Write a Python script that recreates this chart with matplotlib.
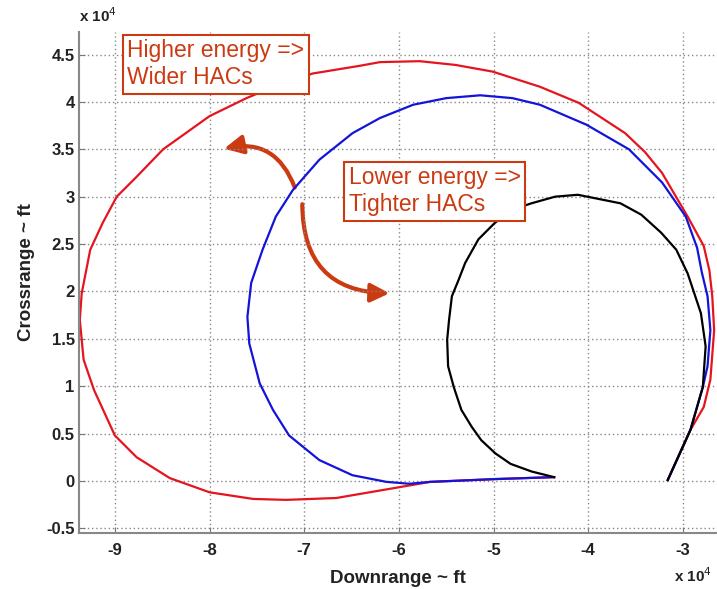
import numpy as np
import matplotlib.pyplot as plt
from matplotlib.patches import FancyArrowPatch

plt.rcParams['font.family'] = ['Liberation Sans', 'DejaVu Sans']

# Траектории HAC (в единицах 1e4 ft), точки
red_x = [-3.16, -2.92, -2.78, -2.71, -2.67, -2.69, -2.72, -2.78, -2.95, -3.22,
         -3.40, -3.61, -4.10, -4.51, -5.01, -5.40, -5.78, -6.20, -6.42, -6.91,
         -7.25, -7.61, -8.00, -8.49, -8.77, -8.98, -9.13, -9.26, -9.35, -9.37,
         -9.33, -9.22, -9.00, -8.77, -8.42, -8.00, -7.54, -7.19, -6.66, -6.31,
         -5.96, -5.67, -4.97, -4.36]
red_y = [0.01, 0.54, 0.78, 1.07, 1.59, 1.95, 2.22, 2.48, 2.79, 3.25,
         3.47, 3.67, 3.99, 4.16, 4.32, 4.39, 4.43, 4.42, 4.38, 4.30,
         4.19, 4.04, 3.85, 3.50, 3.21, 3.00, 2.72, 2.44, 1.98, 1.70,
         1.28, 0.96, 0.48, 0.25, 0.03, -0.12, -0.19, -0.20, -0.18, -0.12,
         -0.06, -0.01, 0.02, 0.04]

blue_x = [-3.16, -2.92, -2.79, -2.74, -2.71, -2.74, -2.80, -2.85, -2.97, -3.22,
          -3.57, -4.02, -4.51, -4.80, -5.14, -5.50, -5.85, -6.20, -6.49, -6.84,
          -7.12, -7.30, -7.44, -7.56, -7.60, -7.58, -7.47, -7.33, -7.16, -6.84,
          -6.49, -6.13, -5.89, -5.67, -4.97, -4.36]
blue_y = [0.01, 0.54, 0.99, 1.21, 1.59, 1.95, 2.20, 2.46, 2.79, 3.15,
          3.50, 3.76, 3.97, 4.04, 4.07, 4.04, 3.97, 3.83, 3.67, 3.39,
          3.07, 2.79, 2.44, 2.09, 1.73, 1.45, 1.03, 0.75, 0.48, 0.22,
          0.06, -0.01, -0.03, -0.01, 0.02, 0.04]

black_x = [-3.16, -2.92, -2.79, -2.76, -2.81, -2.88, -2.95, -3.07, -3.23, -3.44,
           -3.66, -4.11, -4.35, -4.60, -4.81, -4.99, -5.16, -5.30, -5.37, -5.44,
           -5.47, -5.49, -5.48, -5.42, -5.34, -5.23, -5.13, -4.98, -4.82, -4.60,
           -4.36]
black_y = [0.01, 0.54, 0.99, 1.42, 1.77, 1.98, 2.19, 2.44, 2.62, 2.81,
           2.93, 3.02, 3.00, 2.93, 2.86, 2.72, 2.55, 2.30, 2.12, 1.95,
           1.70, 1.49, 1.21, 0.99, 0.75, 0.57, 0.43, 0.29, 0.18, 0.10,
           0.04]

xticks = [-9, -8, -7, -6, -5, -4, -3]
yticks = [-0.5, 0, 0.5, 1, 1.5, 2, 2.5, 3, 3.5, 4, 4.5]

note_color = '#CC3A12'

fig = plt.figure(figsize=(7.17, 5.89), dpi=100)
ax = fig.add_axes([0.110, 0.095, 0.890, 0.851])

ax.plot(np.array(red_x) * 1e4, np.array(red_y) * 1e4, color='#E5141E', lw=1.6)
ax.plot(np.array(blue_x) * 1e4, np.array(blue_y) * 1e4, color='#1414D8', lw=1.6)
ax.plot(np.array(black_x) * 1e4, np.array(black_y) * 1e4, color='black', lw=1.6)

ax.set_xlim(-9.38e4, -2.64e4)
ax.set_ylim(-0.55e4, 4.74e4)
ax.set_xticks([v * 1e4 for v in xticks])
ax.set_xticklabels([str(v) for v in xticks])
ax.set_yticks([v * 1e4 for v in yticks])
ax.set_yticklabels(['%g' % v for v in yticks])
ax.tick_params(direction='in', length=4, color='#777777', labelsize=12)
ax.tick_params(axis='x', pad=7)
ax.tick_params(axis='y', pad=3)
for lab in ax.get_xticklabels() + ax.get_yticklabels():
    lab.set_fontweight('bold')
    lab.set_color('#222222')

ax.grid(True, color='#888888', linestyle=(0, (1, 2)), lw=1)
ax.spines['top'].set_visible(False)
ax.spines['right'].set_visible(False)
ax.spines['left'].set_color('#888888')
ax.spines['bottom'].set_color('#888888')
ax.spines['left'].set_linewidth(1.5)
ax.spines['bottom'].set_linewidth(1.5)

ax.set_xlabel('Downrange ~ ft', fontsize=13.5, fontweight='bold', color='#222222', labelpad=9)
ax.set_ylabel('Crossrange ~ ft', fontsize=13.5, fontweight='bold', color='#222222')
ax.yaxis.set_label_coords(-0.068, 0.52)

fig.text(0.110, 0.962, r'x 10$^4$', fontsize=11, fontweight='bold', color='#222222')
fig.text(0.940, 0.012, r'x 10$^4$', fontsize=11, fontweight='bold', color='#222222')

# Подписи
box = dict(boxstyle='square,pad=0.2', fc='white', ec=note_color, lw=1.5)
ax.text(-8.87e4, 4.66e4, 'Higher energy =>\nWider HACs', color=note_color,
        fontsize=16.5, va='top', ha='left', bbox=box, linespacing=1.2)
ax.text(-6.53e4, 3.32e4, 'Lower energy =>\nTighter HACs', color=note_color,
        fontsize=16.5, va='top', ha='left', bbox=box, linespacing=1.2)

# Стрелки
style = '-|>,head_length=0.8,head_width=0.4'
arr1 = FancyArrowPatch((-7.09e4, 3.07e4), (-7.875e4, 3.50e4),
                       connectionstyle='arc3,rad=0.45', arrowstyle=style,
                       mutation_scale=14, color=note_color, lw=3)
arr2 = FancyArrowPatch((-7.02e4, 2.95e4), (-6.07e4, 1.98e4),
                       connectionstyle='arc3,rad=0.5', arrowstyle=style,
                       mutation_scale=14, color=note_color, lw=3)
ax.add_patch(arr1)
ax.add_patch(arr2)

fig.savefig('out.png', dpi=100)
